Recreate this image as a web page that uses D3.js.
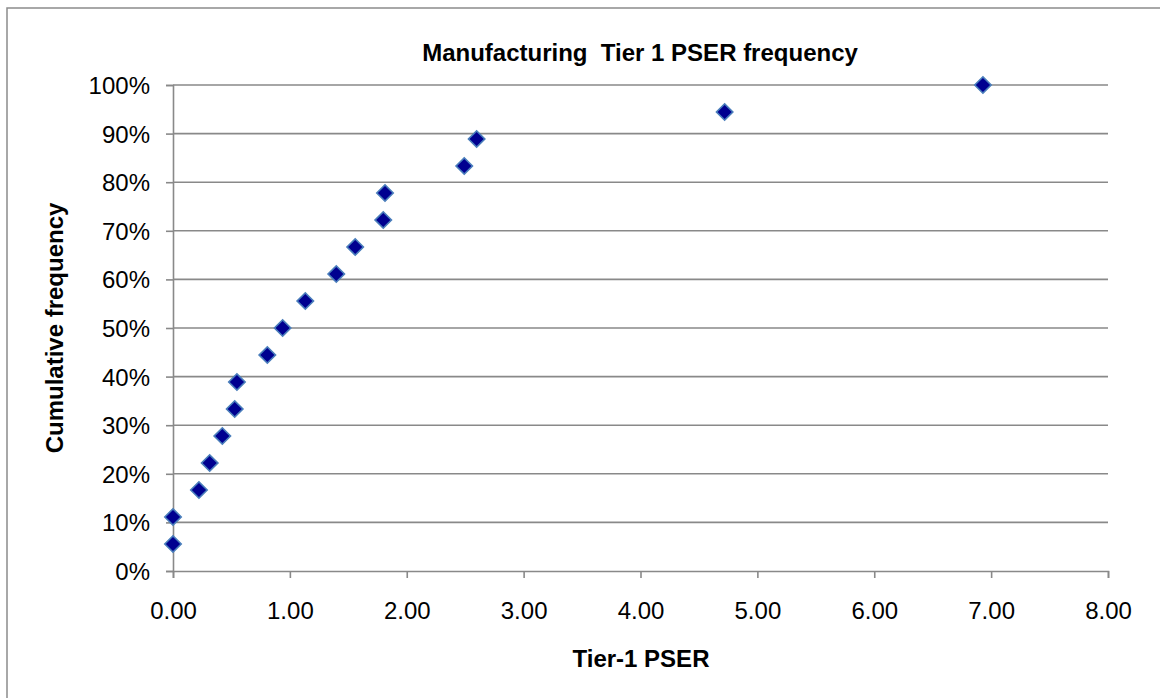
<!DOCTYPE html>
<html>
<head>
<meta charset="utf-8">
<script src="https://cdn.jsdelivr.net/npm/d3@7"></script>
<style>
    html, body { margin: 0; padding: 0; background: #fff; }
    svg { display: block; font-family: "Liberation Sans", Arial, sans-serif; }
</style>
</head>
<body>
<div id="chart"></div>
<script>
// Tier-1 PSER values (x) and cumulative frequency (y)
const pserValues = [0.00, 0.00, 0.222, 0.314, 0.422, 0.528, 0.547, 0.807, 0.938,
    1.132, 1.397, 1.559, 1.799, 1.814, 2.492, 2.598, 4.72, 6.93];
const cumFrequency = [0.0556, 0.1111, 0.1667, 0.2222, 0.2778, 0.3333, 0.3889, 0.4444, 0.5,
    0.5556, 0.6111, 0.6667, 0.7222, 0.7778, 0.8333, 0.8889, 0.9444, 1.0];
const xTicks = [0, 1, 2, 3, 4, 5, 6, 7, 8];
const yTicks = [0, 0.1, 0.2, 0.3, 0.4, 0.5, 0.6, 0.7, 0.8, 0.9, 1.0];

const chartTitle = "Manufacturing\u00a0 Tier 1 PSER frequency";
const xTitle = "Tier-1 PSER";
const yTitle = "Cumulative frequency";

const width = 1160,
    height = 698,
    plot = { left: 173, right: 1108, top: 85, bottom: 571 };

const svg = d3.select("#chart")
    .append("svg")
    .attr("width", width)
    .attr("height", height);

// chart frame (only left/top visible)
svg.append("rect")
    .attr("x", 7).attr("y", 8)
    .attr("width", 1300).attr("height", 900)
    .attr("fill", "#fff")
    .attr("stroke", "#8c8c8c")
    .attr("stroke-width", 1.5);

const x = d3.scaleLinear().domain([0, 8]).range([plot.left, plot.right]);
const y = d3.scaleLinear().domain([0, 1]).range([plot.bottom, plot.top]);

// gridlines
svg.append("g")
    .selectAll("line")
    .data(yTicks.slice(1))
    .enter()
    .append("line")
    .attr("x1", plot.left).attr("x2", plot.right)
    .attr("y1", (d) => y(d)).attr("y2", (d) => y(d))
    .attr("stroke", "#898989")
    .attr("stroke-width", 1.6);

// axes
const xAxis = svg.append("g")
    .attr("transform", `translate(0,${plot.bottom})`)
    .call(d3.axisBottom(x).tickValues(xTicks).tickSize(7).tickPadding(24).tickFormat(d3.format(".2f")));

const yAxis = svg.append("g")
    .attr("transform", `translate(${plot.left},0)`)
    .call(d3.axisLeft(y).tickValues(yTicks).tickSize(7).tickPadding(16).tickFormat(d3.format(".0%")));

[xAxis, yAxis].forEach((g) => {
    g.select(".domain").attr("stroke", "#898989").attr("stroke-width", 1.6);
    g.selectAll(".tick line").attr("stroke", "#898989").attr("stroke-width", 1.6);
    g.selectAll(".tick text")
        .attr("fill", "#000")
        .style("font-size", "24px")
        .style("font-family", "'Liberation Sans', Arial, sans-serif");
});
yAxis.selectAll(".tick text").attr("dy", "0.35em");

// titles
svg.append("text")
    .attr("x", 640).attr("y", 61)
    .attr("text-anchor", "middle")
    .style("font-size", "24px").style("font-weight", "bold")
    .text(chartTitle);

svg.append("text")
    .attr("x", 641).attr("y", 667)
    .attr("text-anchor", "middle")
    .style("font-size", "24px").style("font-weight", "bold")
    .text(xTitle);

svg.append("text")
    .attr("transform", `translate(63,${(plot.top + plot.bottom) / 2}) rotate(-90)`)
    .attr("text-anchor", "middle")
    .style("font-size", "24px").style("font-weight", "bold")
    .text(yTitle);

// markers
const points = pserValues.map((v, i) => ({ x: v, y: cumFrequency[i] }));
const diamond = d3.symbol().type(d3.symbolSquare).size(135);

svg.append("g")
    .selectAll("path")
    .data(points)
    .enter()
    .append("path")
    .attr("d", diamond)
    .attr("transform", (d) => `translate(${x(d.x)},${y(d.y)}) rotate(45)`)
    .attr("fill", "#000090")
    .attr("stroke", "#4a7ebb")
    .attr("stroke-width", 1.6);
</script>
</body>
</html>
